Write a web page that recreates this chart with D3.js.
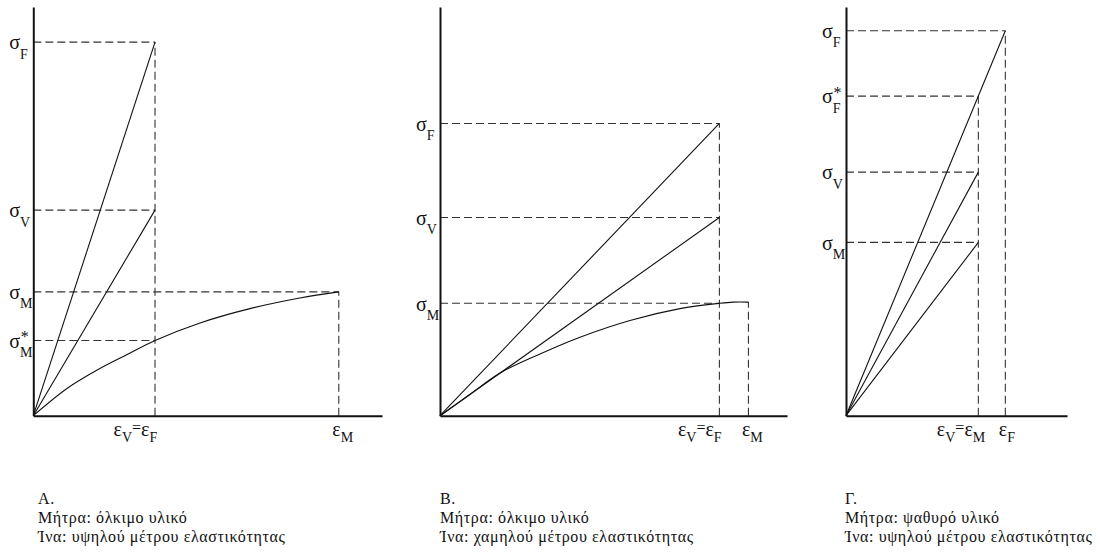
<!DOCTYPE html>
<html>
<head>
<meta charset="utf-8">
<script src="https://cdn.jsdelivr.net/npm/d3@7"></script>
<style>
body { margin: 0; background: #fff; }
text { font-family: "Liberation Serif", "Times New Roman", serif; fill: #111; }
.domain { stroke: #111; stroke-width: 2; }
.guide { stroke: #333; stroke-width: 1.1; stroke-dasharray: 8,4; fill: none; }
.curve { stroke: #111; stroke-width: 1.1; fill: none; }
</style>
</head>
<body>
<div id="chart-area"></div>
<script>

// ---- data (strain in units of eps_F / eps_V, stress in % of axis height) ----
var panelTitles = ["A.", "B.", "Γ."];
var matrixTexts = ["Μήτρα: όλκιμο υλικό", "Μήτρα: όλκιμο υλικό", "Μήτρα: ψαθυρό υλικό"];
var fibreTexts = ["Ίνα: υψηλού μέτρου ελαστικότητας", "Ίνα: χαμηλού μέτρου ελαστικότητας", "Ίνα: υψηλού μέτρου ελαστικότητας"];

// panel A
var strainMaxA = 2.865;
var fibreA = [[0, 0], [1, 91.4]];
var compositeA = [[0, 0], [1, 50.3]];
var matrixA = [[0, 0], [0.274, 6.6], [0.521, 11.1], [0.767, 14.9], [1.0, 18.4], [1.37, 22.7], [1.78, 26.2], [2.19, 28.8], [2.51, 30.3]];
var stressTicksA = [
	{v: 91.4, sub: "F", to: 1},
	{v: 50.3, sub: "V", to: 1},
	{v: 30.3, sub: "M", to: 2.51},
	{v: 18.4, sub: "M", to: 1, star: true}
];
var strainTicksA = [
	{v: 1, top: 91.4, parts: [["ε", "V"], ["=", ""], ["ε", "F"]]},
	{v: 2.51, top: 30.3, parts: [["ε", "M"]]}
];

// panel B
var strainMaxB = 1.242;
var fibreB = [[0, 0], [1, 71.5]];
var compositeB = [[0, 0], [1, 48.5]];
var matrixB = [[0, 0], [0.107, 5.2], [0.215, 10.45], [0.358, 15.1], [0.501, 19.2], [0.68, 23.3], [0.859, 26.2], [1.0, 27.5], [1.049, 27.8], [1.104, 27.8]];
var stressTicksB = [
	{v: 71.5, sub: "F", to: 1},
	{v: 48.5, sub: "V", to: 1},
	{v: 27.5, sub: "M", to: 1}
];
var strainTicksB = [
	{v: 1, top: 71.5, parts: [["ε", "V"], ["=", ""], ["ε", "F"]]},
	{v: 1.104, top: 27.8, parts: [["ε", "M"]]}
];

// panel C
var strainMaxC = 1.67;
var fibreC = [[0, 0], [1.204, 94.2]];
var compositeC = [[0, 0], [1, 59.6]];
var matrixC = [[0, 0], [1, 42.4]];
var stressTicksC = [
	{v: 94.2, sub: "F", to: 1.204},
	{v: 78.2, sub: "F", to: 1, star: true},
	{v: 59.6, sub: "V", to: 1},
	{v: 42.4, sub: "M", to: 1}
];
var strainTicksC = [
	{v: 1, top: 78.2, parts: [["ε", "V"], ["=", ""], ["ε", "M"]]},
	{v: 1.204, top: 94.2, parts: [["ε", "F"]]}
];

// ---- layout ----
var width = 1100;
var height = 552;
var plotTop = 7;
var plotBottom = 415.7;

var panels = [
	{xMax: strainMaxA, fibre: fibreA, comp: compositeA, matrix: matrixA, sTicks: stressTicksA, eTicks: strainTicksA, left: 33.3, right: 382, capX: 38},
	{xMax: strainMaxB, fibre: fibreB, comp: compositeB, matrix: matrixB, sTicks: stressTicksB, eTicks: strainTicksB, left: 440, right: 787, capX: 440},
	{xMax: strainMaxC, fibre: fibreC, comp: compositeC, matrix: matrixC, sTicks: stressTicksC, eTicks: strainTicksC, left: 846, right: 1067, capX: 845}
];

var svg = d3.select("#chart-area")
	.append("svg")
		.attr("width", width)
		.attr("height", height)
		.attr("font-family", "'Liberation Serif', 'Times New Roman', serif")
		.style("background-color", "white");

panels.forEach(function(p, i) {
	var x = d3.scaleLinear().domain([0, p.xMax]).range([p.left, p.right]);
	var y = d3.scaleLinear().domain([0, 100]).range([plotBottom, plotTop]);
	var g = svg.append("g");

	// dashed guides
	p.sTicks.forEach(function(t) {
		g.append("line").attr("class", "guide")
			.attr("x1", x(0)).attr("x2", x(t.to))
			.attr("y1", y(t.v)).attr("y2", y(t.v));
	});
	p.eTicks.forEach(function(t) {
		g.append("line").attr("class", "guide")
			.attr("x1", x(t.v)).attr("x2", x(t.v))
			.attr("y1", y(0)).attr("y2", y(t.top));
	});

	// stress-strain curves
	var line = d3.line()
		.x(function(d) { return x(d[0]); })
		.y(function(d) { return y(d[1]); })
		.curve(d3.curveCatmullRom.alpha(0.5));
	[p.fibre, p.comp, p.matrix].forEach(function(d) {
		g.append("path").attr("class", "curve").attr("d", line(d));
	});

	// axes
	g.append("g")
		.attr("transform", "translate(0," + y(0) + ")")
		.call(d3.axisBottom(x).tickValues([]).tickSizeOuter(0));
	g.append("g")
		.attr("transform", "translate(" + x(0) + ",0)")
		.call(d3.axisLeft(y).tickValues([]).tickSizeOuter(0));

	// stress labels
	p.sTicks.forEach(function(t) {
		var ty = y(t.v);
		var txt = g.append("text")
			.attr("x", x(0) - 24)
			.attr("y", ty + 7.3);
		txt.append("tspan").attr("font-size", "20px").text("σ");
		txt.append("tspan").attr("font-size", "14px").attr("dy", 9.2).text(t.sub);
		if (t.star) {
			g.append("text")
				.attr("x", x(0) - 12.5)
				.attr("y", ty + 2)
				.attr("font-size", "16px")
				.text("*");
		}
	});

	// strain labels
	p.eTicks.forEach(function(t) {
		var off = t.parts.length > 1 ? 41.5 : 6.5;
		var txt = g.append("text")
			.attr("x", x(t.v) - off)
			.attr("y", y(0) + 20);
		var base = 0;
		t.parts.forEach(function(pt) {
			if (pt[0] === "=") {
				txt.append("tspan").attr("font-size", "16px").attr("dy", -3 - base).text("=");
				base = -3;
			} else {
				txt.append("tspan").attr("font-size", "20px").attr("dy", 0 - base).text(pt[0]);
				txt.append("tspan").attr("font-size", "14px").attr("dy", 6).text(pt[1]);
				base = 6;
			}
		});
	});

	// caption
	var cap = [panelTitles[i], matrixTexts[i], fibreTexts[i]];
	cap.forEach(function(c, k) {
		svg.append("text")
			.attr("x", p.capX)
			.attr("y", 504 + k * 19.2)
			.attr("font-size", "16px")
			.attr("letter-spacing", "0.6px")
			.text(c);
	});
});

</script>
</body>
</html>
